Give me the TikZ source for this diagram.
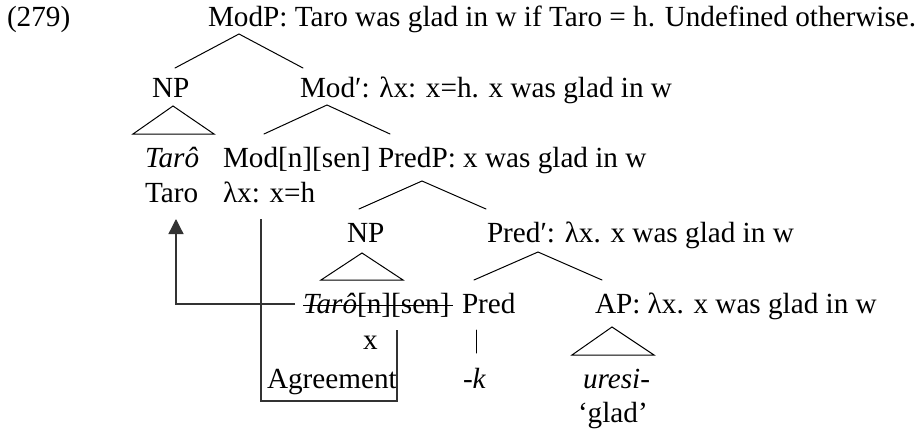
\documentclass[tikz,border=0pt]{standalone}
\usepackage{fontspec}
\setmainfont{Liberation Serif}
\usetikzlibrary{arrows.meta}
\tikzset{
  lbl/.style={anchor=base west,inner sep=0pt,outer sep=0pt,font=\fontsize{29.2}{35}\selectfont},
  br/.style={line width=1pt,line cap=round},
  mv/.style={line width=1.3pt,black!80},
}
\begin{document}
\begin{tikzpicture}[x=1pt,y=-1pt]
\useasboundingbox (0,0) rectangle (922,431);
% row 1
\node[lbl] (ex) at (7,27) {(279)};
\node[lbl] (modp) at (208,27) {ModP: Taro was glad in w if Taro = h. Undefined otherwise.};
\coordinate (a1) at (239,34); \coordinate (a1l) at (175,68); \coordinate (a1r) at (303,68);
\draw[br] (a1l) -- (a1) -- (a1r);
% row 2
\node[lbl] (np1) at (152,97) {NP};
\node[lbl] (modbar) at (300,97) {Mod′: λx: x=h. x was glad in w};
\coordinate (t1) at (173,106); \coordinate (t1l) at (133,134); \coordinate (t1r) at (214,134);
\draw[br] (t1l) -- (t1) -- (t1r) -- cycle;
\coordinate (a2) at (327,105); \coordinate (a2l) at (264,134); \coordinate (a2r) at (390,134);
\draw[br] (a2l) -- (a2) -- (a2r);
% row 3
\node[lbl] (taro1) at (145,167) {\itshape Tarô};
\node[lbl] (mod) at (223,167) {Mod[n][sen]};
\node[lbl] (predp) at (378,167) {PredP: x was glad in w};
\coordinate (a3) at (422,181); \coordinate (a3l) at (359,209); \coordinate (a3r) at (486,209);
\draw[br] (a3l) -- (a3) -- (a3r);
% row 4
\node[lbl] (taro2) at (145,202) {Taro};
\node[lbl] (modsem) at (223,202) {λx: x=h};
% row 5
\node[lbl] (np2) at (347,242) {NP};
\node[lbl] (predbar) at (487,242) {Pred′: λx. x was glad in w};
\coordinate (t2) at (362,253); \coordinate (t2l) at (321,280); \coordinate (t2r) at (403,280);
\draw[br] (t2l) -- (t2) -- (t2r) -- cycle;
\coordinate (a4) at (538,252); \coordinate (a4l) at (474,280); \coordinate (a4r) at (602,280);
\draw[br] (a4l) -- (a4) -- (a4r);
% row 6
\node[lbl] (strk) at (303,313) {\textit{Tarô}[n][sen]};
\draw[line width=1pt] ([yshift=8pt]strk.base west) -- ([yshift=8pt,xshift=3pt]strk.base east);
\node[lbl] (pred) at (462,313) {Pred};
\node[lbl] (ap) at (595,313) {AP: λx. x was glad in w};
\coordinate (t3) at (612,327); \coordinate (t3l) at (572,355); \coordinate (t3r) at (654,355);
\draw[br] (t3l) -- (t3) -- (t3r) -- cycle;
\coordinate (p1) at (476,330); \coordinate (p2) at (476,353);
\draw[br] (p1) -- (p2);
% lower rows
\node[lbl] (xx) at (363,349) {x};
\node[lbl] (agr) at (267,388) {Agreement};
\node[lbl] (k) at (463,388) {-\textit{k}};
\node[lbl] (uresi) at (583,388) {\itshape uresi-};
\node[lbl] (glad) at (578,422) {‘glad’};
% movement arrow
\coordinate (m1) at (295,304); \coordinate (m2) at (176,219);
\draw[mv,-{Triangle[length=15pt,width=15pt]}] (m1) -| (m2);
% agreement line
\coordinate (g1) at (261,219); \coordinate (g2) at (397,401); \coordinate (g3) at (397,330);
\draw[mv] (g1) |- (g2) -- (g3);
\end{tikzpicture}
\end{document}
